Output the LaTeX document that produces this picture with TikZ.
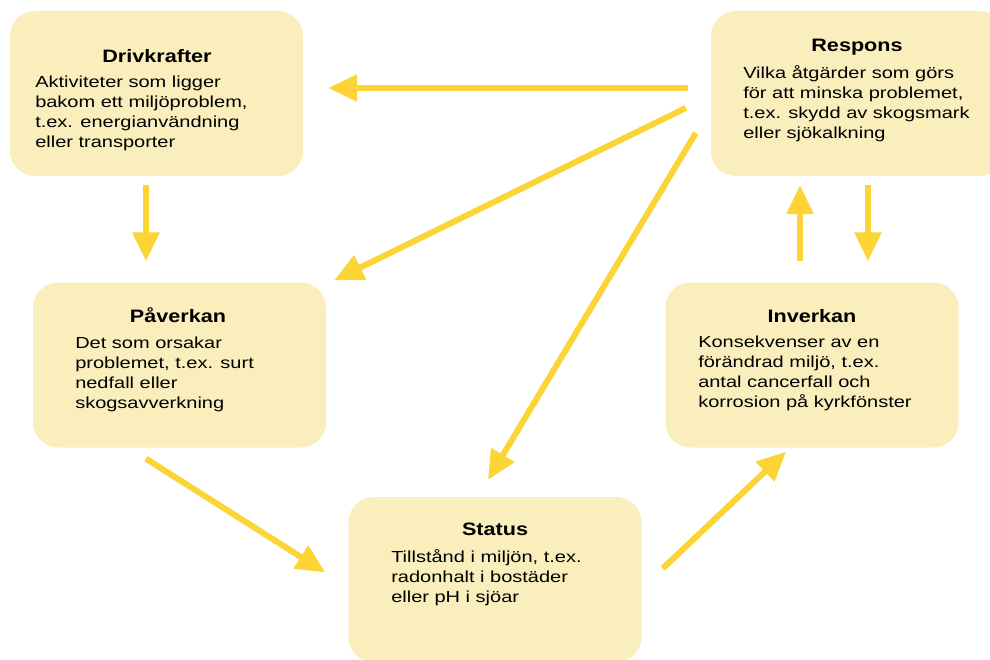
\documentclass[tikz,border=0pt]{standalone}
\usepackage{fontspec}
\setmainfont{Liberation Sans}
\usetikzlibrary{arrows.meta}
\definecolor{boxfill}{HTML}{F9EEBC}
\definecolor{arrowgold}{HTML}{FCD436}
\tikzset{box/.style={fill=boxfill, rounded corners=25pt, minimum width=293pt, minimum height=165pt, inner sep=0pt},
  boxtitle/.style={font=\fontsize{18}{22}\selectfont\bfseries, xscale=1.2, inner sep=0pt, anchor=base},
  boxtext/.style={font=\fontsize{16}{20}\selectfont, xscale=1.25, align=left, inner sep=0pt, anchor=base west},
  arr/.style={-{Triangle[length=29pt,width=26pt]}, line width=6pt, draw=arrowgold}}

\begin{document}
\begin{tikzpicture}[x=1pt,y=-1pt]
        \useasboundingbox (0,0) rectangle (990,660);

        \node[box](drv)at(156.5,93.5){};
        \node[box](resp)at(857.5,93.5){};
        \node[box](pav)at(179.5,365){};
        \node[box](inv)at(812,365){};
        \node[box](sta)at(495,579.5){};

        \node[boxtitle](drvt)at(157,63){Drivkrafter};
        \node[boxtext](drvb)at(35,148){Aktiviteter som ligger\\bakom ett miljöproblem,\\t.ex. energianvändning\\eller transporter};

        \node[boxtitle](respt)at(857,52){Respons};
        \node[boxtext](respb)at(743,139){Vilka åtgärder som görs\\för att minska problemet,\\t.ex. skydd av skogsmark\\eller sjökalkning};

        \node[boxtitle](pavt)at(178,322){Påverkan};
        \node[boxtext](pavb)at(75,408){Det som orsakar\\problemet, t.ex. surt\\nedfall eller\\skogsavverkning};

        \node[boxtitle](invt)at(812,322){Inverkan};
        \node[boxtext](invb)at(698,407){Konsekvenser av en\\förändrad miljö, t.ex.\\antal cancerfall och\\korrosion på kyrkfönster};

        \node[boxtitle](stat)at(495,535){Status};
        \node[boxtext](stab)at(391,602){Tillstånd i miljön, t.ex.\\radonhalt i bostäder\\eller pH i sjöar};

        \draw[arr]([shift={(-23,-5.5)}]resp.west)--([shift={(25,-5.5)}]drv.east);
        \draw[arr]([shift={(-25,14.5)}]resp.west)--([shift={(8,-2)}]pav.north east);
        \draw[arr]([shift={(-15,39.5)}]resp.west)--([shift={(-7,-17)}]sta.north);
        \draw[arr]([shift={(-10.5,9)}]drv.south)--([shift={(-33.5,-21)}]pav.north);
        \draw[arr]([shift={(-33.5,11)}]pav.south)--([shift={(-23,-7)}]sta.west);
        \draw[arr]([shift={(21,-11)}]sta.east)--([shift={(-26,4)}]inv.south);
        \draw[arr]([shift={(-12,-21)}]inv.north)--([shift={(-57.5,9)}]resp.south);
        \draw[arr]([shift={(10.5,9)}]resp.south)--([shift={(56,-21)}]inv.north);
    \end{tikzpicture}
\end{document}
